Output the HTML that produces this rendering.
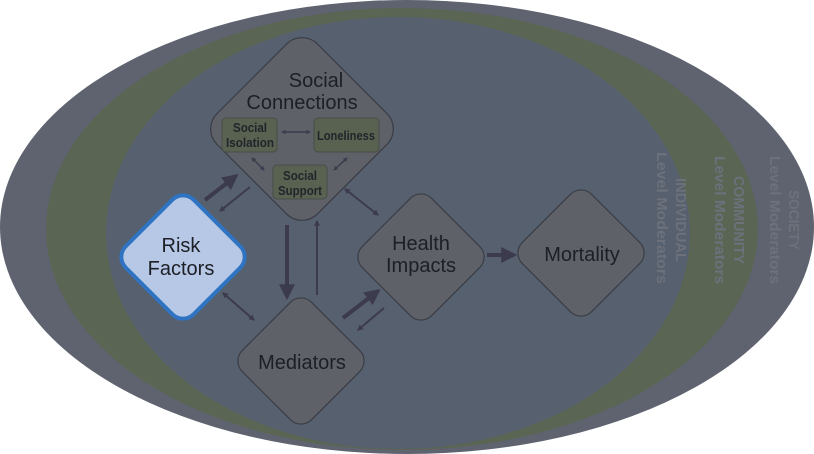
<!DOCTYPE html>
<html><head><meta charset="utf-8"><style>
html,body{margin:0;padding:0;background:#fff;width:814px;height:454px;overflow:hidden}
svg{display:block}
text{font-family:"Liberation Sans",sans-serif}
.n{font-family:"Liberation Sans Narrow","Liberation Sans",sans-serif;font-weight:bold}
</style></head><body>
<svg width="814" height="454" viewBox="0 0 814 454" xmlns="http://www.w3.org/2000/svg">
<defs>
<marker id="a" viewBox="0 0 10 10" refX="8" refY="5" markerWidth="4" markerHeight="4" orient="auto-start-reverse"><path d="M0,0L10,5L0,10z" fill="#3c3b4d"/></marker>
<marker id="b" viewBox="0 0 10 10" refX="8" refY="5" markerWidth="3" markerHeight="3" orient="auto-start-reverse"><path d="M0,0L10,5L0,10z" fill="#3c3b4d"/></marker>
</defs>
<ellipse cx="407" cy="227" rx="407" ry="227" fill="#5e636f"/>
<ellipse cx="402" cy="229" rx="356" ry="221" fill="#5a6554"/>
<ellipse cx="398" cy="233" rx="292" ry="216" fill="#57606e"/>

<g fill="#6c717b" font-size="15">
<text class="n" transform="translate(676,220) rotate(90)" text-anchor="middle" textLength="84" lengthAdjust="spacingAndGlyphs">INDIVIDUAL</text>
<text class="n" transform="translate(657,218) rotate(90)" text-anchor="middle" textLength="132" lengthAdjust="spacingAndGlyphs">Level Moderators</text>
<text class="n" transform="translate(734,220) rotate(90)" text-anchor="middle" textLength="88" lengthAdjust="spacingAndGlyphs">COMMUNITY</text>
<text class="n" transform="translate(715,220) rotate(90)" text-anchor="middle" textLength="128" lengthAdjust="spacingAndGlyphs">Level Moderators</text>
<text class="n" transform="translate(789,220) rotate(90)" text-anchor="middle" textLength="60" lengthAdjust="spacingAndGlyphs">SOCIETY</text>
<text class="n" transform="translate(770,220) rotate(90)" text-anchor="middle" textLength="128" lengthAdjust="spacingAndGlyphs">Level Moderators</text>
</g>

<g stroke="#3a3d46" stroke-width="1.2" fill="#5f6169">
<rect x="-71" y="-71" width="142" height="142" rx="22" transform="translate(302,129) rotate(45)"/>
<rect x="-49" y="-49" width="98" height="98" rx="15" transform="translate(301,361) rotate(45)"/>
<rect x="-49" y="-49" width="98" height="98" rx="15" transform="translate(421,257) rotate(45)"/>
<rect x="-49" y="-49" width="98" height="98" rx="15" transform="translate(581,253) rotate(45)"/>
</g>
<rect x="-48" y="-48" width="96" height="96" rx="15" transform="translate(183,257) rotate(45)" fill="#b7c7e6" stroke="#2f74c2" stroke-width="4"/>

<g fill="#596150" stroke="#474d47" stroke-width="1">
<rect x="222" y="118" width="55" height="34" rx="4"/>
<rect x="314" y="118" width="65" height="34" rx="4"/>
<rect x="273" y="165" width="54" height="34" rx="4"/>
</g>
<g font-size="13" fill="#22252b" text-anchor="middle">
<text class="n" x="250" y="132" textLength="34" lengthAdjust="spacingAndGlyphs">Social</text>
<text class="n" x="250" y="147" textLength="48" lengthAdjust="spacingAndGlyphs">Isolation</text>
<text class="n" x="346" y="140" textLength="58" lengthAdjust="spacingAndGlyphs">Loneliness</text>
<text class="n" x="300" y="180" textLength="34" lengthAdjust="spacingAndGlyphs">Social</text>
<text class="n" x="300" y="195" textLength="44" lengthAdjust="spacingAndGlyphs">Support</text>
</g>

<g fill="#1c1f25" text-anchor="middle" font-size="20">
<text x="316" y="87">Social</text>
<text x="302" y="109">Connections</text>
<text x="181" y="252">Risk</text>
<text x="181" y="275">Factors</text>
<text x="421" y="250">Health</text>
<text x="421" y="272">Impacts</text>
<text x="582" y="261">Mortality</text>
<text x="302" y="369">Mediators</text>
</g>

<g stroke="#3c3b4d" fill="none">
<line x1="205" y1="200" x2="236" y2="176" stroke-width="4" marker-end="url(#a)"/>
<line x1="250" y1="187" x2="220" y2="211" stroke-width="2" marker-end="url(#b)"/>
<line x1="345" y1="189" x2="378" y2="215" stroke-width="2" marker-start="url(#b)" marker-end="url(#b)"/>
<line x1="287" y1="225" x2="287" y2="297" stroke-width="4" marker-end="url(#a)"/>
<line x1="317" y1="295" x2="317" y2="221" stroke-width="2" marker-end="url(#b)"/>
<line x1="223" y1="293" x2="254" y2="320" stroke-width="2" marker-start="url(#b)" marker-end="url(#b)"/>
<line x1="343" y1="318" x2="378" y2="291" stroke-width="4" marker-end="url(#a)"/>
<line x1="384" y1="308" x2="358" y2="330" stroke-width="2" marker-end="url(#b)"/>
<line x1="487" y1="255" x2="514" y2="255" stroke-width="4" marker-end="url(#a)"/>
<line x1="282" y1="132" x2="310" y2="132" stroke-width="1.5" marker-start="url(#b)" marker-end="url(#b)"/>
<line x1="252" y1="158" x2="264" y2="170" stroke-width="1.5" marker-start="url(#b)" marker-end="url(#b)"/>
<line x1="347" y1="158" x2="334" y2="170" stroke-width="1.5" marker-start="url(#b)" marker-end="url(#b)"/>
</g>
</svg>
</body></html>
